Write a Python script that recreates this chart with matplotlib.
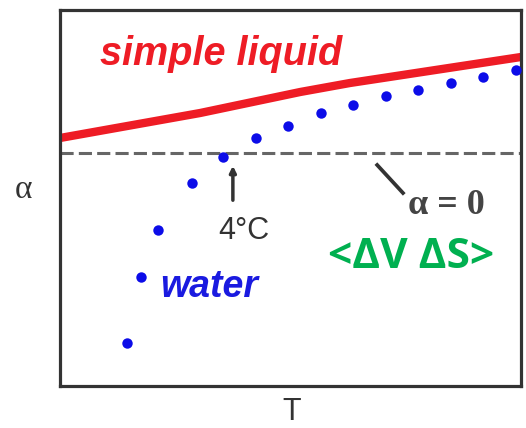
import matplotlib
matplotlib.use("Agg")
import matplotlib.pyplot as plt

# data (arbitrary units)
water_T = [14.5, 17.6, 21.3, 28.6, 35.4, 42.5, 49.5, 56.6, 63.6, 70.7, 77.7, 84.8, 91.8, 98.9]
water_alpha = [-1.90, -1.24, -0.77, -0.30, -0.04, 0.15, 0.27, 0.40, 0.48, 0.57, 0.63, 0.70, 0.76, 0.83]
liquid_T = [0, 30.4, 52.1, 62.9, 100]
liquid_alpha = [0.15, 0.40, 0.61, 0.70, 0.96]

fig = plt.figure(figsize=(5.26, 4.28), dpi=100)
ax = fig.add_axes([60/526, 42/428, 461/526, 376/428])
ax.set_xlim(0, 100)
ax.set_ylim(-2.33, 1.43)
ax.set_xticks([]); ax.set_yticks([])
for s in ax.spines.values():
    s.set_linewidth(2.3)
    s.set_color("#333333")

ax.axhline(0, color="#666666", lw=2.2, dashes=(4.3, 1.7), zorder=1)
ax.plot(liquid_T, liquid_alpha, color="#ee1c25", lw=6, solid_capstyle="butt",
        solid_joinstyle="round", zorder=2, clip_on=False)
ax.plot(water_T, water_alpha, "o", color="#0c0ce8", ms=7.5, mec="none", zorder=3)

ax.text(8.7, 0.88, "simple liquid", color="#ee1c25", fontsize=28.5, fontweight="bold",
        fontstyle="italic", family="Liberation Sans", va="baseline", ha="left")
ax.text(21.7, -1.44, "water", color="#1a1ae0", fontsize=27, fontweight="bold",
        fontstyle="italic", family="Liberation Sans", va="baseline", ha="left")
ax.text(39.9, -0.78, "4°C", color="#333333", fontsize=22, family="Liberation Sans",
        va="center", ha="center")
ax.annotate("", xy=(37.5, -0.10), xytext=(37.5, -0.50),
            arrowprops=dict(arrowstyle="-|>", color="#333333", lw=2.5, mutation_scale=9))
ax.plot([68.8, 74.4], [-0.12, -0.40], color="#333333", lw=2.7)
ax.text(75.5, -0.52, "α = 0", color="#444444", fontsize=26, fontweight="bold",
        family="Liberation Serif", va="center", ha="left")
ax.text(58.1, -1.05, "<ΔV ΔS>", color="#00b050", fontsize=30.5, fontweight="bold",
        family="Open Sans", va="center", ha="left")

fig.text(23/526, 1 - 190/428, "α", fontsize=24, family="Liberation Serif", color="#333333",
         ha="center", va="center")
fig.text(292/526, 1 - 412/428, "T", fontsize=22, family="Liberation Sans", color="#333333",
         ha="center", va="center")

fig.savefig("out.png", dpi=100)
